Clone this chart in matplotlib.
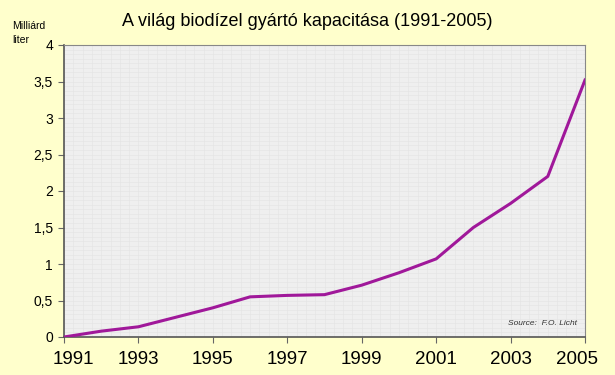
import numpy as np
import matplotlib.pyplot as plt
import matplotlib.transforms as mtransforms

years = [1991, 1992, 1993, 1994, 1995, 1996, 1997, 1998, 1999, 2000, 2001, 2002, 2003, 2004, 2005]
capacity = [0.0, 0.08, 0.14, 0.27, 0.40, 0.55, 0.57, 0.58, 0.71, 0.88, 1.07, 1.50, 1.83, 2.20, 3.52]
x_ticks = [1991, 1993, 1995, 1997, 1999, 2001, 2003, 2005]
y_ticks = [0, 0.5, 1, 1.5, 2, 2.5, 3, 3.5, 4]
y_labels = ["0", "0,5", "1", "1,5", "2", "2,5", "3", "3,5", "4"]

plt.rcParams['font.family'] = ['Liberation Sans', 'DejaVu Sans']

fig = plt.figure(figsize=(6.15, 3.75), dpi=100, facecolor="#FFFFCC")
ax = fig.add_axes([64 / 615, 1 - 337 / 375, (585 - 64) / 615, (337 - 45) / 375])
ax.set_facecolor("#EFEFEF")

# faint background grid like the original texture
for v in np.arange(1991, 2005.01, 0.25):
    ax.axvline(v, color="#E4E4E4", lw=0.4, zorder=0)
for v in np.arange(0, 4.01, 0.0625):
    ax.axhline(v, color="#E4E4E4", lw=0.4, zorder=0)

ax.plot(years, capacity, color="#A0189A", lw=2.2, zorder=3)

ax.set_xlim(1991, 2005)
ax.set_ylim(0, 4)
ax.set_xticks(x_ticks)
ax.set_yticks(y_ticks)
ax.set_yticklabels(y_labels)
ax.tick_params(axis="x", labelsize=13.5, length=4, color="#666666", pad=6)
ax.tick_params(axis="y", labelsize=10, length=4, color="#666666", pad=4)

# edge labels nudged inward as in the original
lbls = ax.get_xticklabels()
lbls[0].set_transform(lbls[0].get_transform() + mtransforms.ScaledTranslation(9 / 100, 0, fig.dpi_scale_trans))
lbls[-1].set_transform(lbls[-1].get_transform() + mtransforms.ScaledTranslation(-8 / 100, 0, fig.dpi_scale_trans))

for s in ["left", "bottom"]:
    ax.spines[s].set_color("#555555")
    ax.spines[s].set_linewidth(1.2)
for s in ["top", "right"]:
    ax.spines[s].set_color("#888888")
    ax.spines[s].set_linewidth(0.8)

fig.text(0.5, 1 - 21 / 375, "A világ biodízel gyártó kapacitása (1991-2005)",
         ha="center", va="center", fontsize=13)
fig.text(12 / 615, 1 - 33 / 375, "Milliárd\nliter", ha="left", va="center",
         fontsize=7.5, linespacing=1.4)
ax.text(0.985, 0.035, "Source:  F.O. Licht", transform=ax.transAxes,
        ha="right", va="bottom", fontsize=6, style="italic", color="#333333")

fig.savefig("out.png", dpi=100, facecolor=fig.get_facecolor())
